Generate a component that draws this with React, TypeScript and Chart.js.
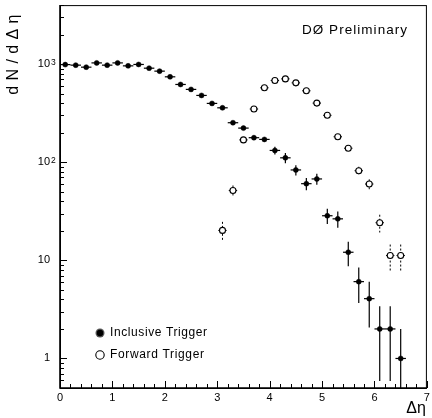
import React, { useEffect, useRef } from "react";
import { Chart, registerables } from "chart.js";

Chart.register(...registerables);

// ---- data ----
const incX = [0.1, 0.3, 0.5, 0.7, 0.9, 1.1, 1.3, 1.5, 1.7, 1.9, 2.1, 2.3, 2.5, 2.7, 2.9, 3.1, 3.3, 3.5, 3.7, 3.9, 4.1, 4.3, 4.5, 4.7, 4.9, 5.1, 5.3, 5.5, 5.7, 5.9, 6.1, 6.3, 6.5];
const incY = [990, 977, 932, 1030, 977, 1030, 961, 993, 910, 849, 743, 621, 553, 480, 398, 359, 253, 223, 178, 171, 132, 111, 83.5, 60.5, 67.6, 28.5, 26.5, 12.1, 6.07, 4.07, 2.0, 2.0, 1.0];
const incErr = [20, 20, 20, 20, 20, 20, 20, 20, 20, 18, 17, 15, 14, 13, 12, 12, 11, 10, 9, 8, 12, 13, 10, 8.5, 8.7, 5, 5, 3.4, 2.4, 2, 1.41, 1.41, 1];

const fwdX = [3.1, 3.3, 3.5, 3.7, 3.9, 4.1, 4.3, 4.5, 4.7, 4.9, 5.1, 5.3, 5.5, 5.7, 5.9, 6.1, 6.3, 6.5];
const fwdY = [20.2, 51.5, 169, 349, 574, 682, 708, 645, 535, 401, 301, 182, 139, 82, 60, 24.2, 11.2, 11.2];
const fwdErr = [4.5, 6.5, 10, 15, 18, 20, 20, 19, 17, 15, 13, 10, 9, 8, 7, 5, 3.3, 3.3];

const xMajorTicks = [0, 1, 2, 3, 4, 5, 6, 7];
const xTickLabels = ["0", "1", "2", "3", "4", "5", "6", "7"];
const xMinorTicks = [0.2, 0.4, 0.6, 0.8, 1.2, 1.4, 1.6, 1.8, 2.2, 2.4, 2.6, 2.8, 3.2, 3.4, 3.6, 3.8, 4.2, 4.4, 4.6, 4.8, 5.2, 5.4, 5.6, 5.8, 6.2, 6.4, 6.6, 6.8];
const yMajorTicks = [1, 10, 100, 1000];
const yTickBase = ["1", "10", "10", "10"];
const yTickSup = ["", "", "2", "3"];
const yMinorTicks = [0.5, 0.6, 0.7, 0.8, 0.9, 2, 3, 4, 5, 6, 7, 8, 9, 20, 30, 40, 50, 60, 70, 80, 90, 200, 300, 400, 500, 600, 700, 800, 900, 2000, 3000, 4000];

const seriesLabels = ["Inclusive Trigger", "Forward Trigger"];
const yTitle = "dN/dΔη";
const xTitle = "Δη";
const noteText = "DØ Preliminary";

const FONT = "'Liberation Sans', Arial, sans-serif";

function spacedText(ctx: CanvasRenderingContext2D, text: string, x: number, y: number, target: number) {
  (ctx as any).letterSpacing = "0px";
  const w = ctx.measureText(text).width;
  const n = Array.from(text).length;
  const ls = n > 1 ? (target - w) / (n - 1) : 0;
  (ctx as any).letterSpacing = ls + "px";
  ctx.fillText(text, x, y);
  (ctx as any).letterSpacing = "0px";
}

export default function App() {
  const ref = useRef<HTMLCanvasElement>(null);

  useEffect(() => {
    document.body.style.margin = "0";
    const canvas = ref.current!;

    const drawErrors = (ctx: any, xs: number[], ys: number[], es: number[], hw: number, dashed: boolean, x: any, y: any, bottom: number) => {
      for (let i = 0; i < xs.length; i++) {
        const px = x.getPixelForValue(xs[i]);
        const py = y.getPixelForValue(ys[i]);
        const lo = ys[i] - es[i];
        const loPx = lo > 0 ? y.getPixelForValue(lo) : bottom + 20;
        const hiPx = y.getPixelForValue(ys[i] + es[i]);
        ctx.setLineDash(dashed ? [2, 2] : []);
        ctx.beginPath();
        ctx.moveTo(px, hiPx);
        ctx.lineTo(px, loPx);
        ctx.stroke();
        ctx.setLineDash([]);
        ctx.beginPath();
        ctx.moveTo(x.getPixelForValue(xs[i] - hw), py);
        ctx.lineTo(x.getPixelForValue(xs[i] + hw), py);
        ctx.stroke();
      }
    };

    const deco = {
      id: "deco",
      beforeDatasetsDraw(chart: any) {
        const { ctx, chartArea: a, scales } = chart;
        const x = scales.x, y = scales.y;
        ctx.save();
        ctx.beginPath();
        ctx.rect(a.left, a.top, a.right - a.left, a.bottom - a.top);
        ctx.clip();
        ctx.strokeStyle = "#000";
        ctx.lineWidth = 1.2;
        drawErrors(ctx, incX, incY, incErr, 0.1, false, x, y, a.bottom);
        ctx.lineWidth = 1;
        drawErrors(ctx, fwdX, fwdY, fwdErr, 0.08, true, x, y, a.bottom);
        ctx.restore();
      },
      afterDraw(chart: any) {
        const { ctx, chartArea: a, scales } = chart;
        const x = scales.x, y = scales.y;
        ctx.save();
        // frame
        ctx.strokeStyle = "#000";
        ctx.lineWidth = 1;
        ctx.strokeRect(a.left + 0.5, a.top + 0.5, a.right - a.left - 1, a.bottom - a.top);
        ctx.lineWidth = 1.6;
        ctx.beginPath();
        ctx.moveTo(a.left, a.top);
        ctx.lineTo(a.left, a.bottom);
        ctx.lineTo(a.right, a.bottom);
        ctx.stroke();
        // ticks
        ctx.lineWidth = 1;
        ctx.beginPath();
        yMajorTicks.forEach((v) => {
          const py = Math.round(y.getPixelForValue(v)) + 0.5;
          ctx.moveTo(a.left, py);
          ctx.lineTo(a.left + 7, py);
        });
        yMinorTicks.forEach((v) => {
          const py = Math.round(y.getPixelForValue(v)) + 0.5;
          ctx.moveTo(a.left, py);
          ctx.lineTo(a.left + 4, py);
        });
        xMajorTicks.forEach((v) => {
          const px = Math.round(x.getPixelForValue(v)) + 0.5;
          ctx.moveTo(px, a.bottom);
          ctx.lineTo(px, a.bottom - 7);
        });
        xMinorTicks.forEach((v) => {
          const px = Math.round(x.getPixelForValue(v)) + 0.5;
          ctx.moveTo(px, a.bottom);
          ctx.lineTo(px, a.bottom - 4);
        });
        ctx.stroke();
        // tick labels
        ctx.fillStyle = "#000";
        ctx.font = "11px " + FONT;
        ctx.textBaseline = "middle";
        ctx.textAlign = "center";
        xMajorTicks.forEach((v, i) => {
          ctx.fillText(xTickLabels[i], x.getPixelForValue(v), a.bottom + 10);
        });
        yMajorTicks.forEach((v, i) => {
          const py = y.getPixelForValue(v);
          ctx.font = "11px " + FONT;
          ctx.textAlign = "right";
          ctx.textBaseline = "middle";
          ctx.fillText(yTickBase[i], 50, py);
          if (yTickSup[i]) {
            ctx.font = "8.5px " + FONT;
            ctx.textAlign = "left";
            ctx.textBaseline = "alphabetic";
            ctx.fillText(yTickSup[i], 51, py + 0.5);
          }
        });
        // axis titles
        ctx.font = "16px " + FONT;
        ctx.textAlign = "center";
        ctx.textBaseline = "middle";
        ctx.save();
        ctx.translate(14, 52);
        ctx.rotate(-Math.PI / 2);
        spacedText(ctx, yTitle, 0, 0, 80);
        ctx.restore();
        ctx.font = "16px " + FONT;
        ctx.textAlign = "center";
        ctx.fillText(xTitle, 416, 409);
        // note
        ctx.font = "13.5px " + FONT;
        ctx.textAlign = "left";
        ctx.textBaseline = "middle";
        spacedText(ctx, noteText, 302, 30, 105);
        // legend
        ctx.font = "12px " + FONT;
        const lx = 100;
        const ly = [333, 355];
        ctx.beginPath();
        ctx.arc(lx, ly[0], 4.5, 0, Math.PI * 2);
        ctx.fillStyle = "#555";
        ctx.fill();
        ctx.beginPath();
        ctx.arc(lx, ly[0], 3.2, 0, Math.PI * 2);
        ctx.fillStyle = "#000";
        ctx.fill();
        ctx.beginPath();
        ctx.arc(lx, ly[1], 4.2, 0, Math.PI * 2);
        ctx.fillStyle = "#fff";
        ctx.fill();
        ctx.lineWidth = 1.1;
        ctx.strokeStyle = "#000";
        ctx.stroke();
        ctx.fillStyle = "#000";
        spacedText(ctx, seriesLabels[0], 110, ly[0], 97);
        spacedText(ctx, seriesLabels[1], 110, ly[1], 94);
        ctx.restore();
      },
    };

    const chart = new Chart(canvas, {
      type: "scatter",
      data: {
        datasets: [
          {
            label: seriesLabels[0],
            data: incX.map((v, i) => ({ x: v, y: incY[i] })),
            pointRadius: 2.5,
            pointBackgroundColor: "#000",
            pointBorderColor: "#000",
            pointBorderWidth: 0.5,
          },
          {
            label: seriesLabels[1],
            data: fwdX.map((v, i) => ({ x: v, y: fwdY[i] })),
            pointRadius: 3,
            pointBackgroundColor: "#fff",
            pointBorderColor: "#000",
            pointBorderWidth: 1.1,
          },
        ],
      },
      options: {
        responsive: false,
        animation: false,
        layout: { padding: { top: 4, right: 2, left: 0, bottom: 0 } },
        plugins: { legend: { display: false }, tooltip: { enabled: false } },
        scales: {
          x: {
            type: "linear",
            min: 0,
            max: 7,
            grid: { display: false },
            border: { display: false },
            ticks: { display: false },
            afterFit: (s: any) => { s.height = 30; },
          },
          y: {
            type: "logarithmic",
            min: 0.5,
            max: 4000,
            grid: { display: false },
            border: { display: false },
            ticks: { display: false },
            afterFit: (s: any) => { s.width = 60; },
          },
        },
      } as any,
      plugins: [deco],
    });
    return () => chart.destroy();
  }, []);

  return <canvas ref={ref} width={432} height={418} style={{ display: "block" }} />;
}
